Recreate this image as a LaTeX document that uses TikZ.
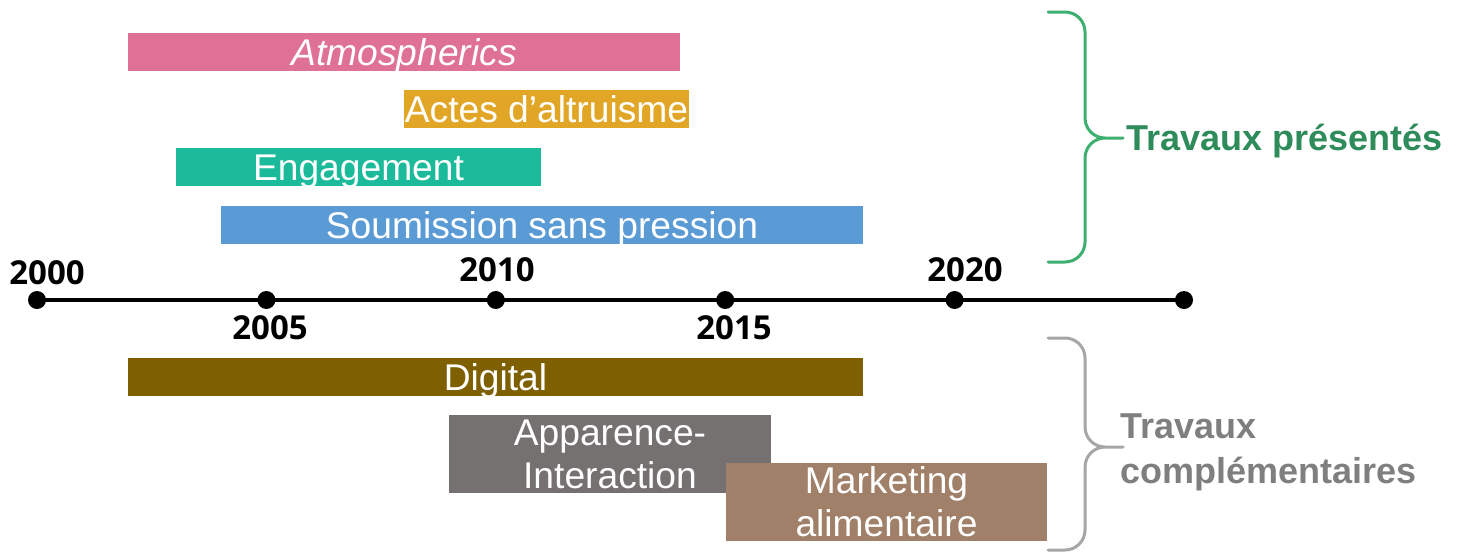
\documentclass[tikz,border=0pt]{standalone}
\usepackage{fontspec}
\setmainfont{Liberation Sans}
\newfontfamily\yearfont{Open Sans}
\usepackage{tikz}
\usetikzlibrary{positioning,calc}

\definecolor{atmoPink}{HTML}{DE7195}
\definecolor{actesGold}{HTML}{E2A627}
\definecolor{engTeal}{HTML}{1BBA9A}
\definecolor{soumBlue}{HTML}{5B9BD5}
\definecolor{digOlive}{HTML}{7F6000}
\definecolor{appGray}{HTML}{767171}
\definecolor{markTan}{HTML}{A08068}
\definecolor{presGreen}{HTML}{3DAF6E}
\definecolor{presText}{HTML}{2E8B5A}
\definecolor{compGray}{HTML}{A6A6A6}
\definecolor{compText}{HTML}{7F7F7F}

\tikzset{
  bar/.style={rectangle,inner sep=0pt,minimum height=19pt,text=white,
    font=\fontsize{18.6}{21.5}\selectfont,text height=13.3pt,text depth=0pt},
  tallbar/.style={rectangle,inner sep=0pt,minimum height=39pt,text=white,align=center,
    font=\fontsize{18.6}{21.5}\selectfont},
  dot/.style={circle,fill=black,inner sep=0pt,minimum size=9pt},
  yearlabel/.style={font=\yearfont\bfseries\fontsize{16.5}{19}\selectfont},
  brace/.style={line width=1.5pt,line cap=round,rounded corners=10pt},
  groupname/.style={font=\bfseries\fontsize{18}{22.5}\selectfont,align=left,inner sep=0pt}
}

\begin{document}
\begin{tikzpicture}[x=0.5pt,y=-0.5pt]
\useasboundingbox (0,0) rectangle (1465,552);

% Time axis
\foreach \i in {0,...,5}
    \node[dot] (d\i) at (37+229.4*\i,300) {};
\draw[line width=2pt] (d0.center) -- (d5.center);
\foreach \x/\y/\yr in {47/273/2000, 497/270/2010, 965/270/2020, 270/328/2005, 734/328/2015}
    \node[yearlabel] (y\yr) at (\x,\y) {\yr};

% Travaux presentes
\node[bar,fill=atmoPink,minimum width=276pt] (atmo) at (404,52) {\itshape Atmospherics};
\node[bar,fill=actesGold,minimum width=142.5pt] (actes) at (546.5,109) {Actes d’altruisme};
\node[bar,fill=engTeal,minimum width=182.5pt] (engage) at (358.5,167) {Engagement};
\node[bar,fill=soumBlue,minimum width=321pt] (soum) at (542,225) {Soumission sans pression};

% Travaux complementaires
\node[bar,fill=digOlive,minimum width=367.5pt] (digital) at (495.5,377) {Digital};
\node[tallbar,fill=appGray,minimum width=161pt] (appar) at (610,454) {Apparence-\\Interaction};
\node[tallbar,fill=markTan,minimum width=160.5pt] (market) at (886.5,502) {Marketing\\alimentaire};

% Braces
\coordinate (presTip) at (1123,138);
\draw[brace,presGreen] (1048,12) -- (1085,12) -- (1085,138) -- (presTip)
    (presTip) -- (1085,138) -- (1085,262) -- (1048,262);
\node[groupname,presText,anchor=base west] (presLabel) at (1126,150) {Travaux présentés};

\coordinate (compTip) at (1123,447);
\draw[brace,compGray] (1048,338) -- (1085,338) -- (1085,447) -- (compTip)
    (compTip) -- (1085,447) -- (1085,550) -- (1048,550);
\node[groupname,compText,anchor=west] (compLabel) at (1120,452) {Travaux\\complémentaires};
\end{tikzpicture}
\end{document}
